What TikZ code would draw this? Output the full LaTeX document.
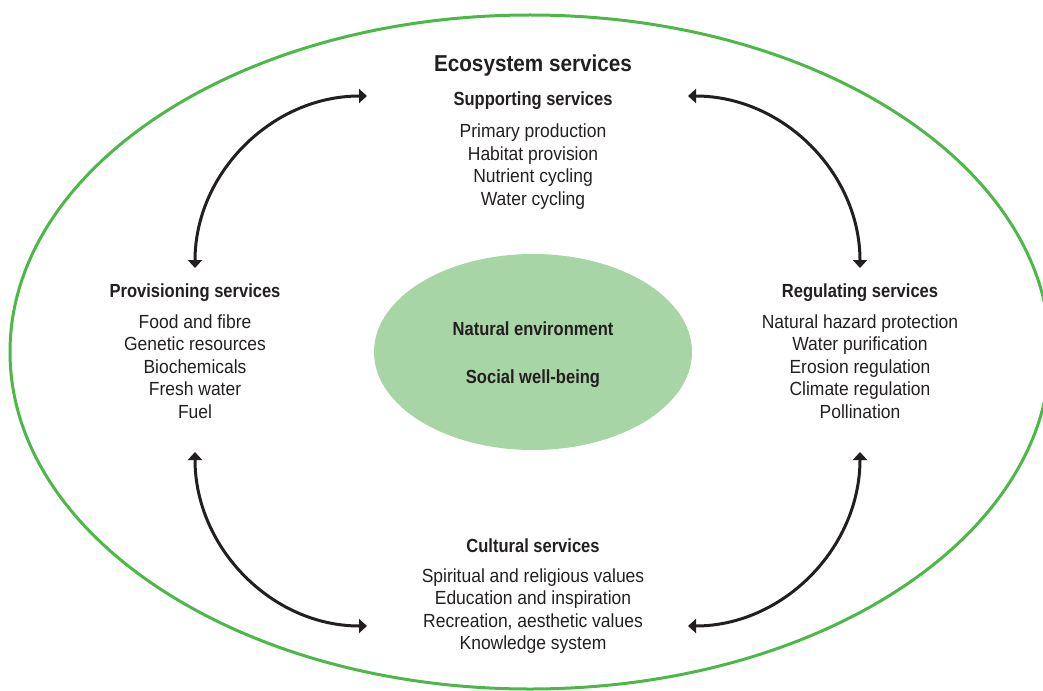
\documentclass[tikz,border=0pt]{standalone}
\usepackage{fontspec}
\setmainfont{Liberation Sans}
\newfontfamily\bodyf{Liberation Sans}[FakeStretch=0.92]
\newfontfamily\headf{Liberation Sans}[FakeStretch=0.87]
\newfontfamily\titlef{Liberation Sans}[FakeStretch=0.9]
\usetikzlibrary{arrows.meta,shapes.geometric}
\definecolor{txt}{HTML}{231F20}
\definecolor{outergreen}{HTML}{4CB848}
\definecolor{innergreen}{HTML}{A8D5A6}
\begin{document}
\begin{tikzpicture}[x=1pt,y=-1pt,
  body/.style={anchor=base,inner sep=0pt,text=txt,font=\bodyf\fontsize{19}{22}\selectfont},
  head/.style={anchor=base,inner sep=0pt,text=txt,font=\headf\bfseries\fontsize{19}{22}\selectfont},
  title/.style={anchor=base,inner sep=0pt,text=txt,font=\titlef\bfseries\fontsize{23}{26}\selectfont},
  link/.style={draw=txt,line width=3pt,{Triangle[length=8pt,width=14pt]}-{Triangle[length=8pt,width=14pt]}}
]
\useasboundingbox (0,0) rectangle (1043,690);
\clip (0,0) rectangle (1043,690);
% outer ellipse
\draw[outergreen,line width=3pt] (530,352) ellipse [x radius=520, y radius=337];
% inner ellipse
\node[draw=none,fill=innergreen,ellipse,minimum width=318pt,minimum height=196pt,inner sep=0pt] (core) at (533,352) {};
\node[head] (nat) at (533,335) {Natural environment};
\node[head] (soc) at (533,383) {Social well-being};
% title
\node[title] (eco) at (533,72) {Ecosystem services};
% supporting
\node[head] (suph) at (533,106) {Supporting services};
\foreach \t [count=\i] in {Primary production,Habitat provision,Nutrient cycling,Water cycling}
  \node[body] (sup\i) at (533,{137.7+22.6*(\i-1)}) {\t};
% provisioning
\node[head] (proh) at (195,297) {Provisioning services};
\foreach \t [count=\i] in {Food and fibre,Genetic resources,Biochemicals,Fresh water,Fuel}
  \node[body] (pro\i) at (195,{328+22.5*(\i-1)}) {\t};
% regulating
\node[head] (regh) at (860,297) {Regulating services};
\foreach \t [count=\i] in {Natural hazard protection,Water purification,Erosion regulation,Climate regulation,Pollination}
  \node[body] (reg\i) at (860,{328+22.5*(\i-1)}) {\t};
% cultural
\node[head] (culh) at (533,552) {Cultural services};
\foreach \t [count=\i] in {Spiritual and religious values,Education and inspiration,{Recreation, aesthetic values},Knowledge system}
  \node[body] (cul\i) at (533,{582+22.5*(\i-1)}) {\t};
% arrow endpoints
\coordinate (tlA) at (195,268);
\coordinate (tlB) at (367,96);
\coordinate (trA) at (688,96);
\coordinate (trB) at (860,268);
\coordinate (blA) at (195,452);
\coordinate (blB) at (367,626);
\coordinate (brA) at (860,452);
\coordinate (brB) at (688,626);
\draw[link] (tlA) .. controls (195,173) and (272,96) .. (tlB);
\draw[link] (trA) .. controls (783,96) and (860,173) .. (trB);
\draw[link] (blA) .. controls (195,548) and (272,626) .. (blB);
\draw[link] (brA) .. controls (860,548) and (783,626) .. (brB);
\end{tikzpicture}
\end{document}
